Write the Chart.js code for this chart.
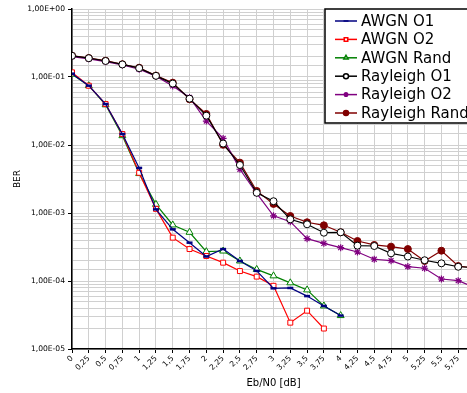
<!DOCTYPE html>
<html>
<head>
<meta charset="utf-8">
<script src="https://cdn.jsdelivr.net/npm/chart.js@4/dist/chart.umd.min.js"></script>
<style>
  html, body { margin: 0; padding: 0; background: #fff; }
  #wrap { width: 467px; height: 393px; overflow: hidden; }
  #inner { width: 485px; height: 393px; }
</style>
</head>
<body>
<div id="wrap"><div id="inner"><canvas id="berChart"></canvas></div></div>
<script>
// Eb/N0 in dB, 0 .. 6 by 0.25
var ebn0 = [0, 0.25, 0.5, 0.75, 1, 1.25, 1.5, 1.75, 2, 2.25, 2.5, 2.75, 3,
            3.25, 3.5, 3.75, 4, 4.25, 4.5, 4.75, 5, 5.25, 5.5, 5.75, 6];

var awgnO1 = [0.112, 0.0745, 0.040, 0.0145, 0.0046, 0.00113, 0.000575, 0.000366, 0.000229,
              0.000295, 0.000197, 0.000141, 7.8e-5, 7.9e-5, 6.0e-5, 4.3e-5, 3.1e-5];
var awgnO2 = [0.117, 0.0745, 0.040, 0.0145, 0.0039, 0.00115, 0.000434, 0.000295, 0.000233,
              0.000186, 0.00014, 0.000116, 8.5e-5, 2.44e-5, 3.66e-5, 2.0e-5];
var awgnRand = [0.110, 0.0745, 0.039, 0.0137, 0.0038, 0.00134, 0.000667, 0.00052, 0.00027,
                0.000276, 0.000197, 0.000148, 0.000119, 9.4e-5, 7.4e-5, 4.3e-5, 3.1e-5];

var rayO1 = [0.205, 0.189, 0.172, 0.153, 0.135, 0.104, 0.080, 0.048, 0.027, 0.0105, 0.00508,
             0.00198, 0.00149, 0.000807, 0.000682, 0.000513, 0.00052, 0.000331, 0.000327,
             0.000255, 0.000229, 0.000202, 0.000182, 0.000162, 0.000158];
var rayO2 = [0.200, 0.185, 0.168, 0.150, 0.130, 0.103, 0.0738, 0.050, 0.0225, 0.0125, 0.0044,
             0.00195, 0.00091, 0.000745, 0.000419, 0.000358, 0.000309, 0.000267, 0.000209,
             0.000199, 0.000163, 0.000154, 0.000107, 0.000101, 8.0e-5];
var rayRand = [0.206, 0.190, 0.174, 0.154, 0.137, 0.105, 0.0826, 0.047, 0.0286, 0.0101, 0.0055,
               0.00211, 0.00136, 0.000903, 0.00073, 0.000659, 0.00052, 0.000387, 0.000339,
               0.00032, 0.000295, 0.000197, 0.000279, 0.000166, 0.000155];

function pts(ys) {
  return ys.map(function (y, i) { return { x: ebn0[i], y: y }; });
}

function isDecade(v) {
  var e = Math.log10(v);
  return Math.abs(e - Math.round(e)) < 1e-6;
}

function fmtExp(v) {
  if (!isDecade(v)) return '';
  var r = Math.round(Math.log10(v));
  var n = Math.abs(r);
  return '1,00E' + (r < 0 ? '-' : '+') + (n < 10 ? '0' + n : n);
}

// legend box drawn inside the plot, top right (runs off the right edge like the original)
var boxLegend = {
  id: 'boxLegend',
  afterDraw: function (chart) {
    var ctx = chart.ctx;
    var x0 = 325, y0 = 9, w = 175, h = 114;
    ctx.save();
    ctx.fillStyle = '#fff';
    ctx.fillRect(x0, y0, w, h);
    ctx.strokeStyle = '#000';
    ctx.lineWidth = 1.5;
    ctx.strokeRect(x0, y0, w, h);
    ctx.font = '15px "DejaVu Sans"';
    ctx.textBaseline = 'middle';
    chart.data.datasets.forEach(function (ds, i) {
      var y = 21 + i * 18.4;
      ctx.strokeStyle = ds.borderColor;
      ctx.lineWidth = 1.5;
      ctx.beginPath();
      ctx.moveTo(335, y);
      ctx.lineTo(357, y);
      ctx.stroke();
      ctx.fillStyle = ds.pointBackgroundColor;
      ctx.strokeStyle = ds.borderColor;
      Chart.helpers.drawPoint(ctx, {
        pointStyle: ds.pointStyle, radius: 2.5, rotation: 0,
        borderWidth: ds.pointStyle === 'line' ? 2.5 : 1
      }, 346, y);
      ctx.fillStyle = '#000';
      ctx.fillText(ds.label, 361, y + 1);
    });
    ctx.restore();
  }
};

function series(label, data, color, style, fill, radius, bw) {
  return {
    label: label,
    data: pts(data),
    borderColor: color,
    backgroundColor: color,
    borderWidth: 1.2,
    pointStyle: style,
    pointRadius: radius,
    pointHoverRadius: radius,
    pointBackgroundColor: fill,
    pointBorderColor: color,
    pointBorderWidth: bw,
    tension: 0
  };
}

var datasets = [
  series('AWGN O1', awgnO1, '#000080', 'line', '#000080', 3, 2.5),
  series('AWGN O2', awgnO2, '#ff0000', 'rect', '#ffffff', 3.5, 1),
  series('AWGN Rand', awgnRand, '#008000', 'triangle', '#ffffff', 4, 1),
  series('Rayleigh O1', rayO1, '#000000', 'circle', '#ffffff', 3.5, 1),
  series('Rayleigh O2', rayO2, '#800080', 'star', '#800080', 3.5, 1.2),
  series('Rayleigh Rand', rayRand, '#800000', 'circle', '#800000', 3.5, 1)
];

var tickFont = { family: '"DejaVu Sans"', size: 7.6 };

new Chart(document.getElementById('berChart'), {
  type: 'line',
  data: { datasets: datasets },
  options: {
    responsive: true,
    maintainAspectRatio: false,
    animation: false,
    layout: { padding: { top: 9, right: 10, left: 0, bottom: 0 } },
    plugins: { legend: { display: false }, tooltip: { enabled: false } },
    scales: {
      x: {
        type: 'linear',
        min: 0,
        max: 6,
        border: { color: '#000', width: 1.5 },
        grid: { color: '#d0d0d0', lineWidth: 1, tickLength: 4, tickColor: '#000' },
        ticks: {
          stepSize: 0.25,
          autoSkip: false,
          maxRotation: 45,
          minRotation: 45,
          padding: 1,
          color: '#000',
          font: tickFont,
          callback: function (v) { return String(v).replace('.', ','); }
        },
        title: {
          display: true,
          text: 'Eb/N0 [dB]',
          color: '#000',
          font: { family: '"DejaVu Sans"', size: 10 },
          padding: { top: 2, bottom: 4 }
        },
        afterFit: function (s) { s.paddingRight = 0; s.paddingLeft = 0; s.height = 44; }
      },
      y: {
        type: 'logarithmic',
        min: 1e-5,
        max: 1,
        border: { color: '#000', width: 1.5 },
        grid: {
          color: '#d0d0d0',
          lineWidth: 1,
          tickLength: 4,
          tickColor: function (c) { return c.tick && isDecade(c.tick.value) ? '#000' : 'rgba(0,0,0,0)'; }
        },
        ticks: {
          autoSkip: false,
          padding: 3,
          color: '#000',
          font: tickFont,
          callback: function (v) { return fmtExp(v); }
        },
        title: {
          display: true,
          text: 'BER',
          color: '#000',
          font: { family: '"DejaVu Sans"', size: 9 },
          padding: { top: 12, bottom: 0 }
        },
        afterFit: function (s) { s.width = 72; }
      }
    }
  },
  plugins: [boxLegend]
});
</script>
</body>
</html>
